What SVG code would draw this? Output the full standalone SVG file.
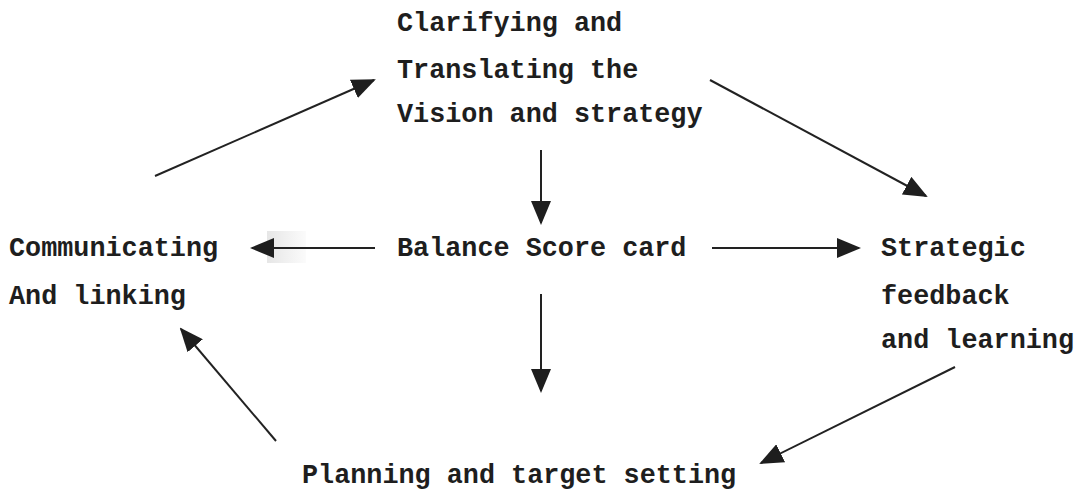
<svg xmlns="http://www.w3.org/2000/svg" width="1078" height="491" viewBox="0 0 1078 491">
  <style>
    .lbl { font-family: "Liberation Mono", "Courier New", monospace; font-weight: bold; font-size: 26.8px; fill: #1e1e1e; }
    .con { stroke: #222; stroke-width: 2; fill: none; marker-end: url(#head); }
  </style>
  <defs>
    <marker id="head" viewBox="0 0 24 20" refX="22" refY="10" markerWidth="24" markerHeight="20" markerUnits="userSpaceOnUse" orient="auto">
      <path d="M0,0 L24,10 L0,20 Z" fill="#1e1e1e"/>
    </marker>
    <linearGradient id="patch" x1="0" y1="0" x2="1" y2="0">
      <stop offset="0" stop-color="#e6e6e6"/>
      <stop offset="1" stop-color="#fbfbfb"/>
    </linearGradient>
  </defs>
  <rect width="1078" height="491" fill="#fff"/>
  <rect x="267" y="231" width="39" height="32" fill="url(#patch)"/>

  <g id="connectors">
    <line class="con" x1="155" y1="176" x2="374" y2="80"/>
    <line class="con" x1="710" y1="80" x2="926" y2="196"/>
    <line class="con" x1="541" y1="150" x2="541" y2="223"/>
    <line class="con" x1="375" y1="248" x2="252" y2="248"/>
    <line class="con" x1="712" y1="248" x2="859" y2="248"/>
    <line class="con" x1="541" y1="294" x2="541" y2="391"/>
    <line class="con" x1="276" y1="441" x2="181" y2="329"/>
    <line class="con" x1="955" y1="367" x2="761" y2="463"/>
  </g>

  <g id="vision">
    <text class="lbl" x="397" y="31">Clarifying and</text>
    <text class="lbl" x="397" y="78">Translating the</text>
    <text class="lbl" x="397" y="122">Vision and strategy</text>
  </g>
  <g id="bsc">
    <text class="lbl" x="397" y="256">Balance Score card</text>
  </g>
  <g id="communicating">
    <text class="lbl" x="9" y="256">Communicating</text>
    <text class="lbl" x="9" y="304">And linking</text>
  </g>
  <g id="feedback">
    <text class="lbl" x="881" y="256">Strategic</text>
    <text class="lbl" x="881" y="304">feedback</text>
    <text class="lbl" x="881" y="348">and learning</text>
  </g>
  <g id="planning">
    <text class="lbl" x="302" y="483">Planning and target setting</text>
  </g>
</svg>
